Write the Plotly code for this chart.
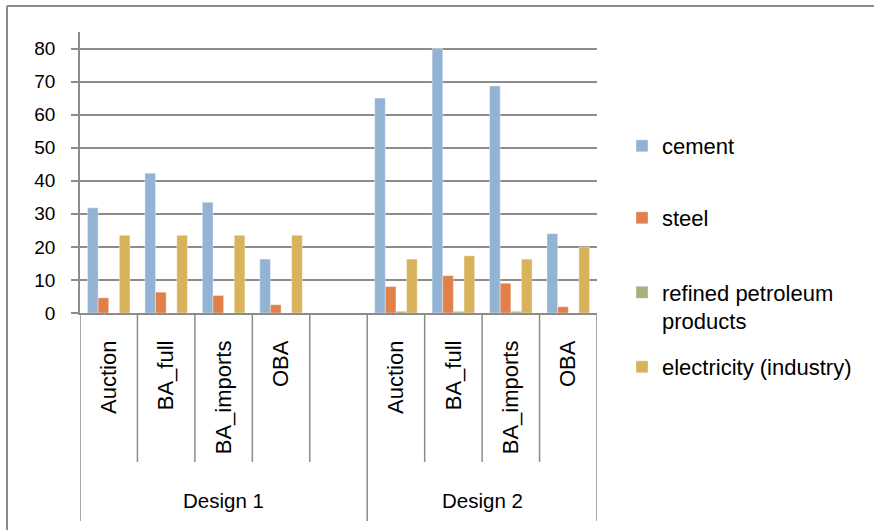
import plotly.graph_objects as go

# Policy scenarios per design (empty slot separates the two designs)
scenarios = ["Auction", "BA_full", "BA_imports", "OBA", "",
             "Auction", "BA_full", "BA_imports", "OBA"]
designs = ["Design 1", "Design 2"]

cement = [31.8, 42.3, 33.5, 16.3, None, 65.0, 80.0, 68.7, 24.0]
steel = [4.6, 6.3, 5.3, 2.5, None, 8.0, 11.3, 9.0, 1.9]
refined = [0, 0, 0, 0, None, 0.5, 0.5, 0.5, 0]
electricity = [23.5, 23.5, 23.5, 23.5, None, 16.3, 17.3, 16.3, 20.0]

series = [
    ("cement", cement, "#93B3D5", "legend"),
    ("steel", steel, "#E0804A", "legend2"),
    ("refined petroleum<br>products", refined, "#A6B07F", "legend3"),
    ("electricity (industry)", electricity, "#D8B35C", "legend4"),
]

FONT = "Liberation Sans, Arial, sans-serif"
GRID = "#8C8C8C"
pos = list(range(len(scenarios)))

fig = go.Figure()
for name, vals, color, leg in series:
    fig.add_trace(go.Bar(
        x=pos, y=vals, name=name, legend=leg,
        marker=dict(color=color, line=dict(color="rgba(255,255,255,0.45)", width=0.8)),
    ))

# plot-area geometry in pixels, used to place decorations in paper units
W, H = 874, 530
L, R, T, B = 80, 277, 32, 217
PW, PH = W - L - R, H - T - B


def py(px_y):
    return (H - B - px_y) / PH


def px_(px_x):
    return (px_x - L) / PW


shapes = []
# category separators below the axis
for k in range(len(scenarios) + 1):
    xb = k - 0.5
    long_line = k in (0, 5, 9)
    shapes.append(dict(type="line", xref="x", yref="paper",
                       x0=xb, x1=xb, y0=0, y1=py(521 if long_line else 462),
                       line=dict(color=GRID, width=1.5)))
# outer chart frame (left and top edges)
shapes.append(dict(type="line", xref="paper", yref="paper",
                   x0=px_(7), x1=px_(7), y0=py(6), y1=py(535),
                   line=dict(color="#8A8A8A", width=2)))
shapes.append(dict(type="line", xref="paper", yref="paper",
                   x0=px_(7), x1=px_(874), y0=py(6), y1=py(6),
                   line=dict(color="#8A8A8A", width=2)))

annotations = [
    dict(x=2, y=py(500), xref="x", yref="paper", text=designs[0], showarrow=False,
         font=dict(family=FONT, size=20.5, color="#000"), xanchor="center", yanchor="middle"),
    dict(x=6.5, y=py(500), xref="x", yref="paper", text=designs[1], showarrow=False,
         font=dict(family=FONT, size=20.5, color="#000"), xanchor="center", yanchor="middle"),
]

legend_common = dict(font=dict(family=FONT, size=22, color="#000"),
                     bgcolor="rgba(0,0,0,0)", xanchor="left", yanchor="middle",
                     x=px_(622), valign="top", itemclick=False)

fig.update_layout(
    width=W, height=H,
    margin=dict(l=L, r=R, t=T, b=B, pad=0),
    paper_bgcolor="white", plot_bgcolor="white",
    barmode="group", bargap=0.26, bargroupgap=0,
    font=dict(family=FONT, color="#000"),
    xaxis=dict(range=[-0.5, 8.5], tickvals=pos, ticktext=scenarios, tickangle=-90,
               tickfont=dict(family=FONT, size=22, color="#000"),
               ticks="", showgrid=False, zeroline=False,
               showline=True, linecolor=GRID, linewidth=1.5,
               ticklabelstandoff=17),
    yaxis=dict(range=[0, 85], tickvals=[0, 10, 20, 30, 40, 50, 60, 70, 80],
               tickfont=dict(family=FONT, size=19, color="#000"),
               ticks="outside", ticklen=7, tickcolor=GRID, tickwidth=1.5,
               showgrid=True, gridcolor=GRID, gridwidth=1.5,
               zeroline=False, showline=True, linecolor=GRID, linewidth=1.5,
               ticklabelstandoff=12),
    shapes=shapes,
    annotations=annotations,
    showlegend=True,
    legend=dict(legend_common, y=py(146)),
    legend2=dict(legend_common, y=py(218)),
    legend3=dict(legend_common, y=py(307)),
    legend4=dict(legend_common, y=py(367)),
)

fig.write_html("out.html")
